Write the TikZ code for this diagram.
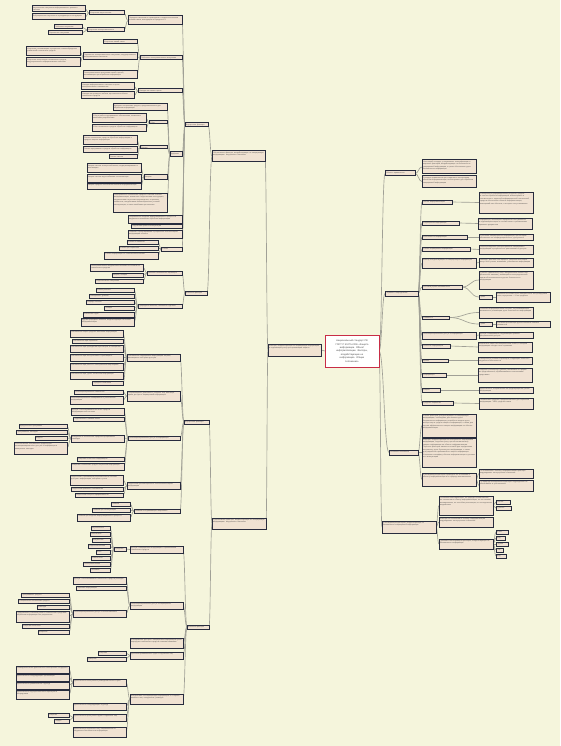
\documentclass[tikz,border=0pt]{standalone}
\usepackage{fontspec}
\setmainfont{Liberation Sans}
\usetikzlibrary{calc}
\definecolor{bgc}{RGB}{245,245,220}
\definecolor{boxc}{RGB}{240,226,210}
\definecolor{bdc}{RGB}{40,44,62}
\definecolor{lnc}{RGB}{160,160,150}
\definecolor{txc}{RGB}{95,92,90}
\definecolor{rtc}{RGB}{200,45,70}
\pgfdeclarelayer{back}\pgfdeclarelayer{lines}\pgfsetlayers{back,lines,main}
\tikzset{
 bx/.style={draw=bdc,fill=boxc,line width=1pt,inner sep=0pt,outer sep=0pt,rectangle},
 tx/.style={anchor=north west,inner sep=0pt,align=left,text=txc,font=\fontsize{1.85}{2.5}\selectfont},
 cn/.style={draw=lnc,line width=0.65pt},
 rootbox/.style={draw=rtc,fill=white,line width=0.9pt,inner sep=0pt,outer sep=0pt,minimum width=54pt,minimum height=32pt,text width=50pt,align=center,text=black!70,font=\fontsize{2.4}{3.4}\selectfont}
}
\newcommand\Nbox[6]{%
 \pgfmathsetlengthmacro\myW{(#4-#2)*1pt}%
 \pgfmathsetlengthmacro\myH{(#5-#3)*1pt}%
 \pgfmathsetlengthmacro\myT{(#4-#2-2.2)*1pt}%
 \node[bx,minimum width=\myW,minimum height=\myH] (#1) at ({(#2+#4)/2},{(#3+#5)/2}) {};%
 \node[tx,text width=\myT] at ([xshift=1pt,yshift=-0.85pt]#1.north west) {#6};}
\newcommand\cnL[2]{\begin{pgfonlayer}{lines}\draw[cn] let \p1=(#1.west), \p2=(#2.east) in (\p1) .. controls ({(\x1+\x2)/2},\y1) and ({(\x1+\x2)/2},\y2) .. (\p2);\end{pgfonlayer}}
\newcommand\cnR[2]{\begin{pgfonlayer}{lines}\draw[cn] let \p1=(#1.east), \p2=(#2.west) in (\p1) .. controls ({(\x1+\x2)/2},\y1) and ({(\x1+\x2)/2},\y2) .. (\p2);\end{pgfonlayer}}
\newcommand\Lch[7]{\Nbox{#2}{#3}{#4}{#5}{#6}{#7}\cnL{#1}{#2}}
\newcommand\Rch[7]{\Nbox{#2}{#3}{#4}{#5}{#6}{#7}\cnR{#1}{#2}}
\begin{document}
\begin{tikzpicture}[x=1pt,y=-1pt]
\useasboundingbox (0,0) rectangle (560,746);
\begin{pgfonlayer}{back}\fill[bgc] (0,0) rectangle (560,746);\end{pgfonlayer}
\node[rootbox] (root) at (352,351) {Национальный стандарт РФ\\ГОСТ Р 51275-2006 «Защита\\информации. Объект\\информатизации. Факторы,\\воздействующие на\\информацию. Общие\\положения»};
% ---------------- LEFT ----------------
\Lch{root}{l1}{268}{344}{321}{356}{Факторы, воздействующие на защищаемую информацию и подлежащие учету при организации защиты}
\Lch{l1}{a}{212}{151}{265}{162}{Объективные факторы, воздействующие на защищаемую информацию: внутренние и внешние}
\Lch{l1}{b}{212}{518}{266}{529}{Субъективные факторы, воздействующие на защищаемую информацию: внутренние и внешние}
\Lch{a}{a1}{185}{123}{208}{127}{Внутренние факторы}
\Lch{a}{a2}{185}{291}{207}{295}{Внешние факторы}
% A1
\Lch{a1}{a1a}{128}{16}{182}{25}{Передача сигналов по проводным и оптико-волоконным линиям связи, выходящим за пределы КЗ}
\Lch{a1a}{a1a1}{89}{11}{124}{15}{Излучения акустические}
\Lch{a1a1}{n1}{32}{6}{85}{12}{Акустические излучения информативного речевого сигнала}
\Lch{a1a1}{n2}{32}{14}{85}{20}{Вибрационные излучения в ограждающих конструкциях}
\Lch{a1a}{a1a2}{87}{28}{124}{32}{Излучения электромагнитные}
\Lch{a1a2}{n3}{54}{25}{82}{29}{Побочные излучения}
\Lch{a1a2}{n4}{48}{31}{82}{35}{Паразитные излучения}
\Lch{a1}{a1b}{140}{56}{182}{60}{Побочные электромагнитные излучения}
\Lch{a1b}{n5}{103}{40}{137}{44}{Излучения линий связи}
\Lch{a1b}{a1b2}{83}{53}{137}{60}{Паразитное электромагнитное излучение, модулированное информативным сигналом}
\Lch{a1b2}{n6}{26}{47}{80}{56}{Излучения, возникающие в результате самовозбуждения усилителей технических средств}
\Lch{a1b2}{n7}{26}{58}{80}{67}{Излучения генераторов технических средств, модулированные информативным сигналом}
\Lch{a1b}{n8}{83}{71}{137}{79}{Электромагнитные излучения линий и цепей, возникающие при обработке информации}
\Lch{a1}{a1c}{138}{89}{182}{93}{Наводки на линии и цепи}
\Lch{a1c}{n9}{81}{83}{134}{90}{Наводки информативного сигнала на цепи электропитания и заземления}
\Lch{a1c}{n10}{81}{92}{134}{99}{Наводки на провода и кабели, проложенные вблизи технических средств}
\Lch{a1}{a1d}{170}{152}{182}{157}{Дефекты}
\Lch{a1d}{n11}{113}{104}{167}{111}{Дефекты технических средств, предназначенных для обработки информации}
\Lch{a1d}{a1d2}{149}{121}{167}{124}{Сбои}
\Lch{a1d2}{n12}{92}{114}{146}{123}{Сбои в работе программного обеспечения, вызванные ошибками разработчика}
\Lch{a1d2}{n13}{92}{125}{146}{132}{Сбои технических средств обработки информации}
\Lch{a1d}{a1d3}{140}{146}{167}{149}{Отказы}
\Lch{a1d3}{n14}{83}{136}{137}{145}{Отказы технических средств обработки информации и средств защиты информации}
\Lch{a1d3}{n15}{83}{147}{137}{153}{Отказы программных средств обработки информации}
\Lch{a1d3}{n16}{109}{155}{137}{159}{Отказы систем}
\Lch{a1d}{a1d4}{144}{175}{167}{179}{Аварии}
\Lch{a1d4}{n17}{87}{164}{141}{173}{Аварии систем электроснабжения, кондиционирования и вентиляции}
\Lch{a1d4}{n18}{87}{175}{141}{182}{Аварии систем водоснабжения и канализации}
\Lch{a1d4}{n19}{87}{183}{141}{189}{Аварии средств обеспечения объекта информатизации}
\Lch{a1d}{n20}{113}{193}{167}{212}{Неисправности технических средств и систем объекта информатизации, вызванные недостатками конструкции, нарушениями технологии производства, старением элементов, воздействием неблагоприятных условий эксплуатации, а также ошибками при монтаже}
\Lch{a1}{n21}{128}{215}{182}{223}{Неправильное ведение информационного процесса и нарушения технологии обработки информации}
\Lch{a1}{n22}{131}{224}{182}{228}{Нарушения правил эксплуатации}
\Lch{a1}{n23}{128}{230}{182}{238}{Ошибки в проектировании и разработке систем защиты информации объекта}
\Lch{a1}{a1e}{161}{247}{182}{251}{Утечка}
\Lch{a1e}{n24}{127}{240}{158}{244}{Утечка по каналам}
\Lch{a1e}{n25}{119}{246}{158}{250}{Утечка при обработке}
\Lch{a1e}{n26}{104}{252}{158}{259}{Утечка информации по техническим каналам}
% A2
\Lch{a2}{a2a}{147}{271}{182}{275}{Явления техногенного характера}
\Lch{a2a}{n27}{90}{264}{143}{271}{Электромагнитные воздействия внешних источников на технические средства}
\Lch{a2a}{n28}{112}{273}{143}{277}{Аварии, пожары}
\Lch{a2a}{n29}{95}{279}{143}{283}{Радиоактивные излучения}
\Lch{a2}{a2b}{138}{304}{182}{308}{Природные явления, стихийные бедствия}
\Lch{a2b}{n30}{96}{288}{134}{292}{Землетрясения}
\Lch{a2b}{n31}{89}{294}{134}{298}{Наводнения, ураганы}
\Lch{a2b}{n32}{86}{300}{134}{304}{Разряды молний}
\Lch{a2b}{n33}{104}{306}{134}{310}{Пожары}
\Lch{a2b}{n34}{83}{312}{134}{317}{Магнитные бури}
\Lch{a2b}{n35}{81}{318}{134}{326}{Другие природные явления, воздействующие на объект информатизации}
% B1
\Lch{b}{b1}{184}{420}{209}{424}{Внутренние факторы}
\Lch{b}{b2}{187}{625}{209}{629}{Внешние факторы}
\Lch{b1}{b1a}{127}{354}{180}{361}{Разглашение защищаемой информации лицами, имеющими к ней право доступа}
\Lch{b1a}{n36}{70}{330}{123}{337}{Разглашение через средства массовой информации}
\Lch{b1a}{n37}{72}{339}{123}{343}{Разглашение при переписке}
\Lch{b1a}{n38}{70}{345}{123}{352}{Разглашение при проведении переговоров и совещаний}
\Lch{b1a}{n39}{70}{354}{123}{361}{Разглашение при выступлениях и публикациях}
\Lch{b1a}{n40}{70}{363}{123}{370}{Разглашение при работе с иностранными партнерами}
\Lch{b1a}{n41}{70}{372}{123}{379}{Разглашение при утрате носителей информации}
\Lch{b1a}{n42}{92}{381}{123}{385}{Передача носителей}
\Lch{b1}{b1b}{127}{391}{180}{401}{Неправомерные действия со стороны лиц, имеющих право доступа к защищаемой информации}
\Lch{b1b}{n43}{74}{390}{123}{394}{Несанкционированное изменение}
\Lch{b1b}{n44}{70}{396}{123}{404}{Несанкционированное копирование и уничтожение информации}
\Lch{b1}{b1c}{128}{436}{180}{440}{Несанкционированный доступ к информации}
\Lch{b1c}{n45}{71}{408}{124}{415}{Доступ с использованием штатных средств информационной системы}
\Lch{b1c}{n46}{73}{417}{124}{421}{Подключение к линиям связи}
\Lch{b1c}{b1c3}{71}{435}{124}{442}{Внедрение в технические средства программных закладок}
\Lch{b1c3}{n47}{19}{424}{67}{428}{Вредоносные программы}
\Lch{b1c3}{n48}{16}{430}{67}{434}{Программные закладки}
\Lch{b1c3}{n49}{35}{436}{67}{440}{Вирусы}
\Lch{b1c3}{n50}{14}{442}{67}{454}{Использование специальных средств для несанкционированного доступа к информации и аппаратных закладок}
\Lch{b1c}{n51}{77}{457}{124}{461}{Хищение носителей информации}
\Lch{b1c}{n52}{71}{463}{124}{470}{Хищение технических средств обработки информации}
\Lch{b1}{b1d}{127}{482}{180}{489}{Недостатки организационного обеспечения защиты информации}
\Lch{b1d}{n53}{70}{475}{123}{485}{Недостатки в организации разрешительной системы доступа к информации, контроля и учета}
\Lch{b1d}{n54}{71}{487}{123}{491}{Недостатки правового обеспечения}
\Lch{b1d}{n55}{75}{493}{123}{497}{Недостатки контроля эффективности}
\Lch{b1}{b1e}{134}{509}{180}{513}{Ошибки обслуживающего персонала}
\Lch{b1e}{n56}{111}{502}{130}{506}{Ошибки}
\Lch{b1e}{n57}{92}{508}{130}{512}{Ошибки при эксплуатации}
\Lch{b1e}{n58}{77}{514}{130}{521}{Ошибки при ведении информационного процесса}
% B2
\Lch{b2}{b2a}{130}{546}{183}{553}{Доступ к защищаемой информации с применением технических средств}
\Lch{b2a}{b2a1}{114}{547}{126}{551}{Средства}
\Lch{b2a1}{n59}{91}{526}{110}{530}{Акустическая}
\Lch{b2a1}{n60}{90}{532}{110}{536}{Оптическая}
\Lch{b2a1}{n61}{92}{538}{110}{542}{Визуальная}
\Lch{b2a1}{n62}{88}{544}{110}{548}{Радиотехническая}
\Lch{b2a1}{n63}{96}{550}{110}{554}{Фото}
\Lch{b2a1}{n64}{91}{556}{110}{560}{Химическая}
\Lch{b2a1}{n65}{83}{562}{110}{566}{Электромагнитная}
\Lch{b2a1}{n66}{90}{568}{110}{572}{Тепловая}
\Lch{b2}{b2b}{130}{602}{183}{609}{Несанкционированный доступ к защищаемой информации}
\Lch{b2b}{n67}{73}{577}{126}{584}{Доступ с использованием технических средств разведки}
\Lch{b2b}{n68}{76}{586}{126}{590}{Перехват информации}
\Lch{b2b}{b2b2}{73}{610}{126}{617}{Несанкционированный доступ с использованием}
\Lch{b2b2}{n69}{21}{593}{69}{597}{Программных средств}
\Lch{b2b2}{n70}{18}{599}{69}{603}{Специальных технических средств}
\Lch{b2b2}{n71}{37}{605}{69}{609}{Закладок}
\Lch{b2b2}{n72}{16}{611}{69}{622}{Подключение к каналам связи и техническим средствам обработки информации без разрешения}
\Lch{b2b2}{n73}{22}{624}{69}{628}{Хищения носителей}
\Lch{b2b2}{n74}{38}{630}{69}{634}{Вскрытия}
\Lch{b2}{b2c}{130}{638}{183}{648}{Блокирование доступа к защищаемой информации путем перегрузки технических средств ложными заявками}
\Lch{b2}{b2d}{130}{652}{183}{659}{Действия криминальных групп и отдельных лиц}
\Lch{b2d}{n75}{98}{651}{126}{655}{Хищение}
\Lch{b2d}{n76}{87}{657}{126}{661}{Диверсии}
\Lch{b2}{b2e}{130}{694}{183}{704}{Воздействие на защищаемую информацию со стороны внешних лиц: конкурентов, разведок}
\Lch{b2e}{b2e1}{73}{679}{126}{686}{Деятельность иностранных разведывательных служб}
\Lch{b2e1}{n77}{16}{666}{69}{673}{Разведывательная деятельность иностранных государств}
\Lch{b2e1}{n78}{16}{674}{69}{681}{Деятельность конкурирующих организаций}
\Lch{b2e1}{n79}{16}{682}{69}{689}{Деятельность криминальных структур}
\Lch{b2e1}{n80}{16}{690}{69}{699}{Деятельность недобросовестных партнеров и посредников}
\Lch{b2e}{n81}{73}{703}{126}{710}{Деятельность конкурирующих структур}
\Lch{b2e}{b2e3}{73}{714}{126}{721}{Деятельность преступных групп и отдельных лиц}
\Lch{b2e3}{n82}{48}{713}{69}{717}{Хищение}
\Lch{b2e3}{n83}{54}{719}{69}{723}{Подкуп}
\Lch{b2e}{n84}{73}{727}{126}{737}{Деятельность отдельных лиц, направленная на нарушение безопасности информации}
% ---------------- RIGHT ----------------
\Rch{root}{r1}{385}{171}{415}{176}{Область применения}
\Rch{root}{r2}{385}{291}{418}{296}{Термины и определения}
\Rch{root}{r3}{389}{450}{418}{455}{Основные положения}
\Rch{root}{r4}{382}{521}{436}{533}{Классификация факторов, воздействующих на безопасность защищаемой информации}
\Rch{r1}{n85}{422}{160}{476}{174}{Настоящий стандарт устанавливает классификацию и перечень факторов, воздействующих на безопасность защищаемой информации, в целях обоснования угроз безопасности информации}
\Rch{r1}{n86}{422}{176}{476}{187}{Стандарт применяется при создании и эксплуатации объектов информатизации, используемых для обработки защищаемой информации}
\Rch{r2}{r2a}{422}{200}{452}{204}{Объект информатизации}
\Rch{r2a}{n87}{479}{192}{533}{213}{Совокупность информационных ресурсов, средств и систем обработки информации, используемых в соответствии с заданной информационной технологией, средств обеспечения объекта информатизации, помещений или объектов, в которых они установлены}
\Rch{r2}{r2b}{422}{221}{459}{225}{Защищаемая информация}
\Rch{r2b}{n88}{478}{218}{532}{229}{Информация, являющаяся предметом собственности и подлежащая защите в соответствии с требованиями правовых документов}
\Rch{r2}{r2c}{422}{235}{467}{239}{Безопасность информации}
\Rch{r2c}{n89}{479}{234}{533}{240}{Состояние защищенности информации, при котором обеспечены ее конфиденциальность, доступность}
\Rch{r2}{r2d}{422}{247}{470}{251}{Утечка защищаемой информации}
\Rch{r2d}{n90}{479}{245}{533}{254}{Неконтролируемое распространение защищаемой информации в результате ее разглашения и доступа}
\Rch{r2}{r2e}{422}{258}{476}{268}{Фактор, воздействующий на защищаемую информацию}
\Rch{r2e}{n91}{479}{258}{533}{267}{Явление, действие или процесс, результатом которых могут быть утечка, искажение, уничтожение информации}
\Rch{r2}{r2f}{422}{285}{462}{289}{Источник угрозы безопасности}
\Rch{r2f}{n92}{479}{271}{533}{289}{Субъект (физическое лицо, материальный объект или физическое явление), являющийся непосредственной причиной возникновения угрозы безопасности информации}
\Rch{r2f}{r2f2}{479}{295}{492}{299}{Прим.}
\Rch{r2f2}{n93}{496}{292}{550}{302}{Внешние источники угроз находятся вне контролируемой зоны, внутренние — в ее пределах}
\Rch{r2}{r2g}{422}{316}{449}{319}{Уязвимость}
\Rch{r2g}{n94}{479}{307}{533}{318}{Свойство информационной системы, обусловливающее возможность реализации угроз безопасности информации}
\Rch{r2g}{r2g2}{479}{322}{492}{326}{Прим.}
\Rch{r2g2}{n95}{496}{321}{550}{327}{Условием реализации угрозы является наличие уязвимости}
\Rch{r2}{r2h}{422}{332}{476}{339}{Несанкционированный доступ к информации}
\Rch{r2h}{n96}{479}{332}{533}{338}{Доступ к информации, нарушающий правила разграничения доступа}
\Rch{r2}{r2i}{422}{344}{450}{348}{Носитель информации}
\Rch{r2i}{n97}{478}{342}{532}{352}{Физическое лицо или материальный объект, в котором информация находит свое отражение}
\Rch{r2}{r2j}{422}{359}{448}{362}{Угроза}
\Rch{r2j}{n98}{478}{357}{532}{364}{Совокупность условий и факторов, создающих опасность нарушения безопасности}
\Rch{r2}{r2k}{422}{373}{446}{377}{Информация}
\Rch{r2k}{n99}{478}{368}{532}{382}{Сведения (сообщения, данные) независимо от формы их представления, обрабатываемые техническими средствами}
\Rch{r2}{r2l}{422}{388}{440}{392}{Защита}
\Rch{r2l}{n100}{479}{387}{533}{393}{Деятельность, направленная на предотвращение утечки информации}
\Rch{r2}{r2m}{422}{401}{453}{405}{Средства обработки}
\Rch{r2m}{n101}{479}{398}{533}{409}{Технические средства, предназначенные для обработки информации: ЭВМ, средства связи}
\Rch{r3}{n102}{422}{414}{476}{437}{Знание факторов, воздействующих на защищаемую информацию, необходимо для анализа угроз безопасности информации, разработки модели угроз, выбора мер и средств защиты информации, а также для оценки эффективности защиты информации на объекте информатизации}
\Rch{r3}{n103}{422}{438}{476}{467}{Факторы, воздействующие на безопасность защищаемой информации, подлежат учету при обосновании мер защиты информации на объекте информатизации. Перечень факторов является основой для определения актуальных угроз безопасности информации, а также для разработки требований по защите информации. Учитывают специфику объекта информатизации и условия его эксплуатации}
\Rch{r3}{r3c}{422}{473}{476}{486}{Классификация факторов проведена по отношению к объекту информатизации и по природе возникновения}
\Rch{r3c}{n104}{479}{469}{533}{478}{По отношению к объекту информатизации факторы подразделяют на внутренние и внешние}
\Rch{r3c}{n105}{479}{480}{533}{491}{По природе возникновения факторы подразделяют на объективные и субъективные}
\Rch{r4}{r4a}{439}{496}{493}{515}{Основания классификации: по природе возникновения, по отношению к объекту информатизации, по источникам возникновения, по способам реализации, по последствиям воздействия}
\Rch{r4a}{n106}{496}{500}{510}{504}{Объект.}
\Rch{r4a}{n107}{496}{506}{511}{510}{Субъект.}
\Rch{r4}{r4b}{439}{517}{493}{527}{Факторы по отношению к объекту информатизации подразделяют на внутренние и внешние}
\Rch{r4}{r4c}{439}{539}{493}{549}{Признаки классификации факторов, воздействующих на безопасность информации}
\Rch{r4c}{n108}{496}{530}{508}{534}{Класс}
\Rch{r4c}{n109}{496}{536}{505}{540}{Вид}
\Rch{r4c}{n110}{496}{542}{508}{546}{Группа}
\Rch{r4c}{n111}{496}{548}{503}{552}{Тип}
\Rch{r4c}{n112}{496}{554}{506}{558}{Вид}
\end{tikzpicture}
\end{document}
